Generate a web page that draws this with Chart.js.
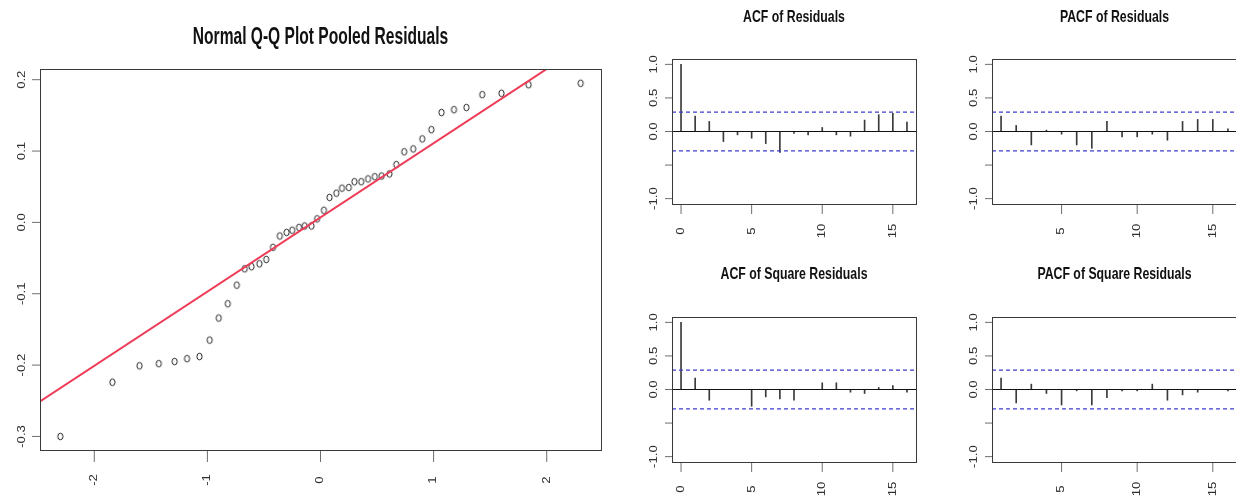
<!DOCTYPE html>
<html>
<head>
<meta charset="utf-8">
<title>Residual diagnostics</title>
<script src="https://cdn.jsdelivr.net/npm/chart.js@4/dist/chart.umd.min.js"></script>
<style>
  html, body { margin: 0; padding: 0; background: #fff; overflow: hidden; }
  body { width: 1236px; height: 497px; position: relative; }
  canvas { position: absolute; }
</style>
</head>
<body>
<canvas id="qqChart" width="620" height="497" style="left:0;top:0"></canvas>
<canvas id="acfChart" width="310" height="250" style="left:620px;top:0"></canvas>
<canvas id="pacfChart" width="330" height="250" style="left:930px;top:0"></canvas>
<canvas id="acfSqChart" width="310" height="247" style="left:620px;top:250px"></canvas>
<canvas id="pacfSqChart" width="330" height="247" style="left:930px;top:250px"></canvas>
<script>
// --- Q-Q plot: theoretical quantiles vs sorted pooled residuals ---
const qqTheoretical = [-2.30, -1.84, -1.60, -1.43, -1.29, -1.18, -1.07, -0.98, -0.90, -0.82,
  -0.74, -0.67, -0.61, -0.54, -0.48, -0.42, -0.36, -0.30, -0.25, -0.19, -0.14, -0.08, -0.03,
  0.03, 0.08, 0.14, 0.19, 0.25, 0.30, 0.36, 0.42, 0.48, 0.54, 0.61, 0.67, 0.74, 0.82, 0.90,
  0.98, 1.07, 1.18, 1.29, 1.43, 1.60, 1.84, 2.30];
const qqSample = [-0.300, -0.224, -0.201, -0.198, -0.195, -0.191, -0.188, -0.165, -0.134, -0.114,
  -0.088, -0.065, -0.062, -0.058, -0.052, -0.035, -0.019, -0.014, -0.011, -0.007, -0.005, -0.005,
  0.005, 0.017, 0.035, 0.041, 0.048, 0.049, 0.057, 0.057, 0.061, 0.064, 0.065, 0.068, 0.081,
  0.099, 0.103, 0.117, 0.130, 0.154, 0.158, 0.161, 0.179, 0.181, 0.193, 0.195];
const qqSlope = 0.104;
const qqIntercept = 0.007;
const qqXRange = [-2.48, 2.48];
const qqYRange = [-0.319, 0.215];
const qqXTicks = [-2, -1, 0, 1, 2];
const qqXLabels = ['-2', '-1', '0', '1', '2'];
const qqYTicks = [-0.3, -0.2, -0.1, 0.0, 0.1, 0.2];
const qqYLabels = ['-0.3', '-0.2', '-0.1', '0.0', '0.1', '0.2'];

// --- correlograms ---
const acfLags = [0, 1, 2, 3, 4, 5, 6, 7, 8, 9, 10, 11, 12, 13, 14, 15, 16];
const pacfLags = [1, 2, 3, 4, 5, 6, 7, 8, 9, 10, 11, 12, 13, 14, 15, 16];
const acfResid = [1.00, 0.23, 0.15, -0.15, -0.05, -0.10, -0.18, -0.31, -0.03, -0.05, 0.06, -0.05, -0.07, 0.17, 0.25, 0.27, 0.14];
const pacfResid = [0.23, 0.09, -0.20, 0.02, -0.04, -0.20, -0.25, 0.15, -0.08, -0.08, -0.04, -0.13, 0.15, 0.18, 0.18, 0.04];
const acfSqResid = [1.00, 0.17, -0.16, 0.00, 0.00, -0.25, -0.11, -0.14, -0.16, 0.00, 0.10, 0.10, -0.04, -0.06, 0.03, 0.06, -0.04];
const pacfSqResid = [0.17, -0.20, 0.08, -0.06, -0.23, -0.02, -0.23, -0.12, -0.02, -0.02, 0.08, -0.16, -0.08, -0.04, 0.00, -0.02];
const confBand = 0.289;
const corrYRange = [-1.08, 1.08];
const acfXRange = [-0.64, 16.64];
const pacfXRange = [0.4, 16.6];
const corrYTicks = [-1, -0.5, 0, 0.5, 1];
const corrYLabels = ['-1.0', '', '0.0', '0.5', '1.0'];
const acfXTicks = [0, 5, 10, 15];
const pacfXTicks = [5, 10, 15];

const LABEL_FONT = '10.5px "Liberation Sans", Arial, sans-serif';
const TITLE_FAMILY = '"Liberation Sans", Arial, sans-serif';

// text turned to read bottom-to-top, stretched along its length
function drawTurned(ctx, text, x, y, stretch) {
    ctx.save();
    ctx.translate(x, y);
    ctx.rotate(-Math.PI / 2);
    ctx.scale(stretch, 1);
    ctx.fillText(text, 0, 0);
    ctx.restore();
}

// base-graphics style frame: box, outward ticks, turned labels, condensed bold title
const rFrame = {
    id: 'rFrame',
    afterDatasetsDraw(chart, args, o) {
        const { ctx, chartArea: a } = chart;
        const xs = chart.scales.x, ys = chart.scales.y;
        ctx.save();
        ctx.lineWidth = 1;
        ctx.strokeStyle = '#3a3a3a';
        ctx.strokeRect(a.left + 0.5, a.top + 0.5, a.right - a.left, a.bottom - a.top);

        ctx.strokeStyle = '#6e6e6e';
        ctx.fillStyle = '#2e2e2e';
        ctx.font = LABEL_FONT;
        ctx.textAlign = 'center';
        ctx.textBaseline = 'middle';
        o.xTicks.forEach((v, i) => {
            const px = xs.getPixelForValue(v);
            ctx.beginPath();
            ctx.moveTo(px, a.bottom + 1);
            ctx.lineTo(px, a.bottom + 1 + o.xTickLen);
            ctx.stroke();
            drawTurned(ctx, o.xLabels[i], px, a.bottom + o.xLabelGap, 1.25);
        });
        o.yTicks.forEach((v, i) => {
            const py = ys.getPixelForValue(v);
            ctx.beginPath();
            ctx.moveTo(a.left - o.yTickLen, py);
            ctx.lineTo(a.left, py);
            ctx.stroke();
            if (o.yLabels[i]) drawTurned(ctx, o.yLabels[i], a.left - o.yLabelGap, py, 1.25);
        });

        ctx.fillStyle = '#111';
        ctx.font = 'bold ' + o.titleSize + 'px ' + TITLE_FAMILY;
        ctx.textBaseline = 'alphabetic';
        ctx.translate((a.left + a.right) / 2, o.titleY);
        ctx.scale(0.82, o.titleStretch);
        ctx.fillText(o.title, 0, 0);
        ctx.restore();
    }
};

// small open ellipse used as the plotting symbol
function ringSymbol() {
    const c = document.createElement('canvas');
    c.width = 9;
    c.height = 11;
    const g = c.getContext('2d');
    g.strokeStyle = '#222';
    g.lineWidth = 1;
    g.beginPath();
    g.ellipse(4.5, 5.5, 2.6, 3.3, 0, 0, Math.PI * 2);
    g.stroke();
    return c;
}

const baseOptions = {
    responsive: false,
    animation: false,
    events: [],
    plugins: { legend: { display: false }, tooltip: { enabled: false } }
};

function buildQQ() {
    const points = qqTheoretical.map((q, i) => ({ x: q, y: qqSample[i] }));
    const refLine = qqXRange.map(q => ({ x: q, y: qqIntercept + qqSlope * q }));
    new Chart(document.getElementById('qqChart'), {
        type: 'scatter',
        data: {
            datasets: [
                {
                    type: 'line', data: refLine, borderColor: '#ee3c58', borderWidth: 2,
                    pointRadius: 0, fill: false
                },
                {
                    data: points, pointStyle: ringSymbol(), pointRadius: 4
                }
            ]
        },
        options: {
            ...baseOptions,
            layout: { padding: { left: 40, top: 69, right: 19, bottom: 47 } },
            scales: {
                x: { type: 'linear', min: qqXRange[0], max: qqXRange[1], display: false },
                y: { type: 'linear', min: qqYRange[0], max: qqYRange[1], display: false }
            },
            plugins: {
                ...baseOptions.plugins,
                rFrame: {
                    title: 'Normal Q-Q Plot Pooled Residuals', titleSize: 19, titleStretch: 1.22, titleY: 44,
                    xTicks: qqXTicks, xLabels: qqXLabels, xTickLen: 11, xLabelGap: 30,
                    yTicks: qqYTicks, yLabels: qqYLabels, yTickLen: 8, yLabelGap: 18
                }
            }
        },
        plugins: [rFrame]
    });
}

function buildCorrelogram(id, title, lags, values, xRange, xTicks, pad, titleY) {
    const spikes = lags.map((lag, i) => ({ x: lag, y: values[i] }));
    const flat = v => xRange.map(x => ({ x: x, y: v }));
    new Chart(document.getElementById(id), {
        type: 'bar',
        data: {
            datasets: [
                { type: 'line', data: flat(confBand), borderColor: '#3d3dd0', borderWidth: 1.3, borderDash: [4, 3], pointRadius: 0 },
                { type: 'line', data: flat(-confBand), borderColor: '#3d3dd0', borderWidth: 1.3, borderDash: [4, 3], pointRadius: 0 },
                { type: 'line', data: flat(0), borderColor: '#111', borderWidth: 1.2, pointRadius: 0 },
                { data: spikes, backgroundColor: '#3a3a3a', barThickness: 1, borderWidth: 0 }
            ]
        },
        options: {
            ...baseOptions,
            layout: { padding: pad },
            scales: {
                x: { type: 'linear', offset: false, min: xRange[0], max: xRange[1], display: false },
                y: { type: 'linear', min: corrYRange[0], max: corrYRange[1], display: false }
            },
            plugins: {
                ...baseOptions.plugins,
                rFrame: {
                    title: title, titleSize: 15, titleStretch: 1.15, titleY: titleY,
                    xTicks: xTicks, xLabels: xTicks.map(String), xTickLen: 9, xLabelGap: 27,
                    yTicks: corrYTicks, yLabels: corrYLabels, yTickLen: 7, yLabelGap: 18
                }
            }
        },
        plugins: [rFrame]
    });
}

buildQQ();
buildCorrelogram('acfChart', 'ACF of Residuals', acfLags, acfResid, acfXRange, acfXTicks,
    { left: 52, top: 59, right: 14, bottom: 46 }, 22);
buildCorrelogram('pacfChart', 'PACF of Residuals', pacfLags, pacfResid, pacfXRange, pacfXTicks,
    { left: 62, top: 59, right: 23, bottom: 46 }, 22);
buildCorrelogram('acfSqChart', 'ACF of Square Residuals', acfLags, acfSqResid, acfXRange, acfXTicks,
    { left: 52, top: 67, right: 14, bottom: 35 }, 29);
buildCorrelogram('pacfSqChart', 'PACF of Square Residuals', pacfLags, pacfSqResid, pacfXRange, pacfXTicks,
    { left: 62, top: 67, right: 23, bottom: 35 }, 29);
</script>
</body>
</html>
